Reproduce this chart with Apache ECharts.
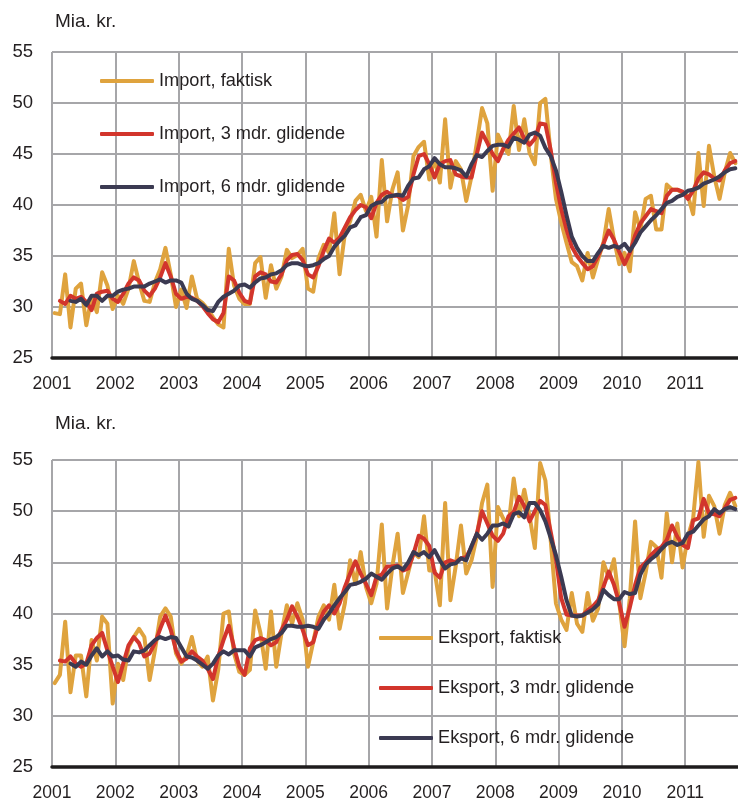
<!DOCTYPE html>
<html>
<head>
<meta charset="utf-8">
<script src="https://cdn.jsdelivr.net/npm/echarts@6/dist/echarts.min.js"></script>
<style>
html,body{margin:0;padding:0;background:#fff;}
#chart{width:738px;height:803px;}
</style>
</head>
<body>
<div id="chart"></div>
<script>
// Monthly data, Jan 2001 - Oct 2011 (rows = years)
const yearLabels = ['2001','2002','2003','2004','2005','2006','2007','2008','2009','2010','2011'];
const yTicks = [25, 30, 35, 40, 45, 50, 55];
const unitLabel = 'Mia. kr.';
const importNames = ['Import, faktisk', 'Import, 3 mdr. glidende', 'Import, 6 mdr. glidende'];
const exportNames = ['Eksport, faktisk', 'Eksport, 3 mdr. glidende', 'Eksport, 6 mdr. glidende'];

const importActual = [
  29.4, 29.3, 33.2, 28.0, 31.8, 32.3, 28.2, 31.0, 29.5, 33.4, 32.1, 29.8,
  31.1, 30.3, 31.8, 34.5, 32.4, 30.6, 30.5, 32.4, 33.7, 35.8, 33.2, 30.0,
  31.7, 29.9, 33.0, 30.8, 30.4, 29.8, 29.0, 28.3, 28.0, 35.7, 32.1, 30.8,
  30.3, 30.3, 34.3, 34.9, 30.9, 34.1, 31.8, 33.0, 35.6, 34.8, 35.1, 35.7,
  31.8, 31.5, 34.8, 36.1, 35.3, 39.2, 33.2, 37.2, 38.4, 40.4, 41.0, 39.4,
  40.8, 36.9, 44.4, 38.4, 41.5, 43.2, 37.5, 40.0, 44.8, 45.7, 46.2, 42.5,
  44.5, 42.2, 48.4, 41.7, 44.3, 43.5, 40.4, 42.8, 46.1, 49.5, 48.0, 41.4,
  46.9, 45.8, 45.0, 49.7, 45.4, 48.4, 45.1, 44.0, 50.0, 50.4, 45.0, 40.6,
  38.3, 36.3, 34.4, 34.0, 32.6, 35.3, 32.9, 34.7, 36.3, 39.6, 36.6, 34.2,
  35.3, 33.5, 39.3, 37.6, 40.6, 40.9, 37.6, 37.6, 42.0, 41.5, 41.5, 41.2,
  40.9, 39.1, 45.1, 39.9, 45.8, 42.8, 40.6, 43.2, 45.1, 44.1
];
const import3m = [
  null, 30.6, 30.3, 31.1, 30.8, 31.0, 30.5, 29.7, 31.3, 31.5, 31.6, 30.8,
  30.5, 31.3, 32.3, 32.9, 32.6, 31.6, 31.1, 31.8, 32.9, 34.3, 33.0, 31.3,
  30.8, 31.0, 30.9, 30.6, 30.1, 29.4, 28.8, 28.5, 29.4, 33.0, 32.6, 31.4,
  30.6, 30.4, 33.0, 33.4, 33.2, 32.5, 32.4, 33.2, 34.6, 35.1, 35.2, 34.6,
  33.2, 32.9, 34.0, 35.5, 36.7, 36.3, 36.8, 37.8, 38.8, 39.5, 40.0, 39.8,
  38.7, 40.2, 41.0, 41.3, 40.9, 40.9, 40.5, 40.8, 43.0, 44.8, 45.0, 44.0,
  42.7, 44.0, 44.3, 44.4, 43.0, 42.8, 42.7, 42.7, 45.0, 47.1, 46.1, 45.0,
  44.3, 45.5, 46.4, 47.0, 47.6, 46.5, 45.9, 46.5, 48.0, 47.9, 45.4, 42.2,
  39.6, 37.6, 35.9, 35.0, 34.3, 33.7, 34.0, 35.0, 36.2, 37.5, 36.6, 35.4,
  34.2, 35.3, 37.0, 38.2, 38.9, 39.6, 39.4, 39.2, 40.9, 41.5, 41.5, 41.3,
  40.6, 41.4, 42.6, 43.2, 43.0, 42.6, 42.4, 43.4, 44.1, 44.3
];
const import6m = [
  null, null, null, 30.6, 30.5, 30.8, 30.2, 31.1, 31.1, 30.6, 31.1, 31.1,
  31.5, 31.7, 31.8, 32.0, 32.0, 32.0, 32.3, 32.5, 32.7, 32.4, 32.6, 32.6,
  32.4, 31.3, 30.8, 30.6, 30.2, 29.7, 29.6, 30.5, 31.0, 31.3, 31.6, 32.1,
  32.2, 31.9, 32.4, 32.8, 32.9, 33.2, 33.3, 33.6, 34.1, 34.3, 34.3, 34.1,
  34.0, 34.1, 34.3, 34.7, 35.0, 35.9, 36.5, 37.0, 37.8, 38.0, 38.8, 39.0,
  39.9, 40.2, 40.3, 40.8, 40.9, 41.0, 40.9, 41.9, 42.6, 42.7, 43.5, 43.8,
  44.6, 44.0, 43.7, 43.7, 43.6, 43.4, 42.8, 44.0, 44.9, 44.7, 45.3, 45.8,
  45.9, 45.9, 45.7, 46.6, 46.4, 46.1, 46.9, 47.1, 46.8, 45.6, 44.8, 43.4,
  41.3, 39.0, 36.9, 35.8, 35.0, 34.5, 34.5, 35.3, 36.0, 35.8, 36.0, 35.8,
  36.2, 35.5, 36.3, 37.3, 37.9, 38.5, 39.0, 39.6, 40.2, 40.4, 40.8, 41.0,
  41.4, 41.5, 41.7, 42.1, 42.3, 42.5, 42.8, 43.2, 43.5, 43.6
];

const exportActual = [
  33.2, 34.0, 39.2, 32.3, 35.9, 35.9, 31.9, 37.4, 35.4, 39.7, 39.0, 31.2,
  35.1, 33.5, 36.7, 37.7, 38.5, 37.7, 33.5, 36.4, 39.7, 40.5, 39.7, 36.1,
  35.1, 35.9, 37.7, 35.4, 34.8, 35.8, 31.5, 34.5, 40.0, 40.2, 36.1, 34.3,
  34.0, 34.5, 40.3, 38.1, 34.6, 40.2, 34.8, 38.1, 40.8, 39.0, 41.0, 39.4,
  34.8, 37.2, 39.7, 40.8, 39.4, 42.8, 38.5, 41.0, 45.2, 42.9, 46.0, 42.6,
  41.0, 42.9, 48.7, 40.5, 44.6, 47.8, 42.0, 44.0, 46.0, 45.5, 49.5, 44.2,
  44.2, 40.8, 50.8, 41.3, 44.6, 48.6, 43.9, 45.2, 47.5, 50.8, 52.6, 42.6,
  50.4, 49.3, 48.5, 53.2, 49.5, 52.1, 49.5, 46.4, 54.7, 53.0, 47.2, 41.0,
  39.4, 38.4, 42.0, 39.0, 38.2, 42.0, 39.3, 40.5, 45.0, 43.5, 45.3, 41.0,
  36.8, 41.5, 49.0, 41.5, 44.0, 47.0, 46.5, 43.5, 49.8, 45.0, 48.8, 44.5,
  47.5, 49.3, 54.8, 47.5, 51.5, 50.5, 47.8, 50.6, 51.8, 50.5
];
const export3m = [
  null, 35.4, 35.3, 35.8, 35.1, 34.8, 35.1, 36.9, 37.6, 38.1, 36.4, 34.8,
  33.3, 35.1, 36.9, 37.7, 37.1, 35.8, 36.1, 37.1, 38.5, 39.8, 38.4, 36.4,
  35.3, 35.6, 36.3, 35.8, 35.4, 34.6, 33.6, 35.8, 37.4, 38.8, 36.7, 34.8,
  34.0, 36.6, 37.4, 37.6, 37.4, 36.9, 37.2, 38.4, 39.4, 40.7, 39.7, 38.4,
  36.9, 37.2, 39.0, 40.2, 40.8, 40.0, 41.0, 42.6, 43.9, 45.1, 43.9, 42.9,
  41.8, 43.6, 43.8, 44.6, 44.6, 44.7, 44.2, 44.4, 45.8, 47.6, 47.3, 46.6,
  44.0, 43.5, 45.0, 45.2, 45.0, 45.4, 45.5, 46.5, 47.8, 50.0, 48.8, 47.6,
  47.1, 47.8, 49.5, 49.9, 51.4, 50.5, 49.0, 50.0, 51.0, 50.6, 48.0, 45.3,
  41.5, 39.9, 39.8, 39.8, 39.8, 40.3, 40.7, 41.3, 42.6, 44.1, 42.8, 41.0,
  38.7, 40.6, 42.8, 44.5, 45.0, 45.7, 46.2, 46.5, 47.2, 48.6, 47.5, 46.7,
  46.4, 49.1, 49.3, 51.2, 49.8, 49.7, 49.5, 50.3, 51.1, 51.3
];
const export6m = [
  null, null, null, 35.1, 34.8, 35.3, 35.0, 35.9, 36.6, 35.8, 36.3, 35.8,
  35.9, 35.5, 35.4, 36.3, 36.2, 36.4, 36.9, 37.4, 37.7, 37.5, 37.7, 37.6,
  36.7, 35.8, 35.7, 35.4, 35.0, 34.6, 35.1, 35.9, 36.3, 36.0, 36.4, 36.4,
  36.4, 35.8, 36.7, 36.9, 37.2, 37.5, 37.7, 38.1, 38.8, 38.8, 38.7, 38.7,
  38.8, 38.7, 38.5, 39.4, 40.0, 40.8, 41.5, 42.1, 42.8, 42.9, 43.1, 43.4,
  43.9, 43.6, 43.3, 43.9, 44.4, 44.6, 44.3, 45.0, 46.0, 45.7, 46.0, 45.5,
  46.2, 45.2, 44.4, 44.8, 44.9, 45.4, 45.2, 46.6, 47.8, 47.2, 47.8, 48.6,
  48.6, 48.8, 48.5, 49.7, 49.9, 49.4, 50.8, 50.8, 50.1, 49.0, 47.4, 45.7,
  43.6, 41.3, 39.8, 39.7, 39.8, 40.1, 40.4, 40.9, 42.3, 41.8, 41.4, 41.4,
  42.1, 41.9, 42.0, 43.8, 44.8, 45.3, 45.7, 46.3, 46.8, 47.0, 46.7, 46.9,
  47.8, 48.0, 48.6, 49.2, 49.5, 50.2, 49.8, 50.2, 50.4, 50.2
];

const COLORS = ['#dfa33e', '#d2352c', '#3b3a52'];
const GRID_COLOR = '#a6a6a9';
const TEXT_COLOR = '#231f20';
const FONT = "'Liberation Sans', Arial, sans-serif";
const NMONTHS = importActual.length; // 130

function toPoints(arr) {
  return arr.map((v, i) => [i + 0.5, v]);
}

function xAxis(gridIndex) {
  return {
    type: 'value', gridIndex: gridIndex, min: 0, max: NMONTHS, interval: 12,
    axisLine: { show: true, onZero: false, lineStyle: { color: '#1e1c1d', width: 3.5 } },
    axisTick: { show: false },
    axisLabel: {
      showMaxLabel: false,
      margin: 17, fontSize: 17.5, fontFamily: FONT, color: TEXT_COLOR,
      formatter: function (v) {
        const idx = Math.round(v / 12);
        return (v % 12 === 0 && idx < yearLabels.length) ? yearLabels[idx] : '';
      }
    },
    splitLine: { show: true, showMaxLine: false, lineStyle: { color: GRID_COLOR, width: 2 } }
  };
}
function yAxis(gridIndex) {
  return {
    type: 'value', gridIndex: gridIndex, min: yTicks[0], max: yTicks[yTicks.length - 1], interval: 5,
    axisLine: { show: false }, axisTick: { show: false },
    axisLabel: { margin: 19, fontSize: 18.5, fontFamily: FONT, color: TEXT_COLOR },
    splitLine: { show: true, lineStyle: { color: GRID_COLOR, width: 2 } }
  };
}
function lineSeries(name, data, idx, gridIdx) {
  return {
    name: name, type: 'line', xAxisIndex: gridIdx, yAxisIndex: gridIdx,
    data: toPoints(data), showSymbol: false, symbol: 'none', connectNulls: false,
    lineStyle: { color: COLORS[idx], width: 4, join: 'round', cap: 'round' },
    itemStyle: { color: COLORS[idx] },
    emphasis: { disabled: true }, animation: false, z: 2 + idx
  };
}
function legend(names, left, top, gap) {
  return {
    data: names, orient: 'vertical', left: left, top: top, padding: 0,
    itemWidth: 54, itemHeight: 4, itemGap: gap, icon: 'roundRect', selectedMode: false,
    textStyle: { fontSize: 18.2, lineHeight: 22, fontFamily: FONT, color: TEXT_COLOR }
  };
}

const chart = echarts.init(document.getElementById('chart'), null, { renderer: 'canvas' });
chart.setOption({
  animation: false,
  backgroundColor: '#ffffff',
  grid: [
    { left: 52, top: 52, width: 686, height: 306 },
    { left: 52, top: 460, width: 686, height: 307 }
  ],
  xAxis: [xAxis(0), xAxis(1)],
  yAxis: [yAxis(0), yAxis(1)],
  legend: [
    legend(importNames, 100, 70, 31),
    legend(exportNames, 379, 627, 28)
  ],
  graphic: [
    { type: 'text', left: 55, top: 12, style: { text: unitLabel, fontSize: 19, fontFamily: FONT, fill: TEXT_COLOR } },
    { type: 'text', left: 55, top: 414, style: { text: unitLabel, fontSize: 19, fontFamily: FONT, fill: TEXT_COLOR } }
  ],
  series: [
    lineSeries(importNames[0], importActual, 0, 0),
    lineSeries(importNames[1], import3m, 1, 0),
    lineSeries(importNames[2], import6m, 2, 0),
    lineSeries(exportNames[0], exportActual, 0, 1),
    lineSeries(exportNames[1], export3m, 1, 1),
    lineSeries(exportNames[2], export6m, 2, 1)
  ]
});
</script>
</body>
</html>
